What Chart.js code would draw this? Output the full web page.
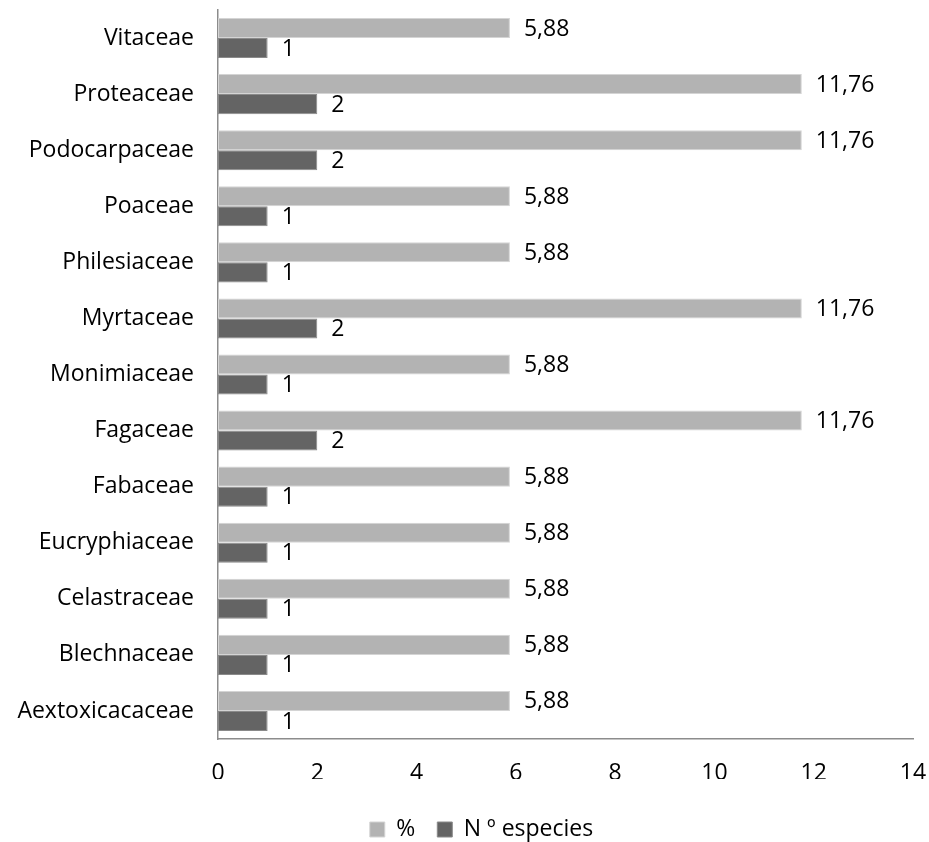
<!DOCTYPE html>
<html>
<head>
<meta charset="utf-8">
<script src="https://cdn.jsdelivr.net/npm/chart.js@4/dist/chart.umd.min.js"></script>
<style>
  html, body { margin: 0; padding: 0; background: #ffffff; }
  #wrap { width: 929px; height: 842px; }
</style>
</head>
<body>
<div id="wrap"><canvas id="c" width="929" height="842"></canvas></div>
<script>
// Families, top to bottom
const families = [
  'Vitaceae', 'Proteaceae', 'Podocarpaceae', 'Poaceae', 'Philesiaceae',
  'Myrtaceae', 'Monimiaceae', 'Fagaceae', 'Fabaceae', 'Eucryphiaceae',
  'Celastraceae', 'Blechnaceae', 'Aextoxicacaceae'
];
// Share of species per family (%)
const percent = [5.88, 11.76, 11.76, 5.88, 5.88, 11.76, 5.88, 11.76, 5.88, 5.88, 5.88, 5.88, 5.88];
// Number of species per family
const speciesCount = [1, 2, 2, 1, 1, 2, 1, 2, 1, 1, 1, 1, 1];
// Value axis ticks
const xTicks = [0, 2, 4, 6, 8, 10, 12, 14];

const FONT = '"Open Sans", sans-serif';
const FONT_SIZE = 23;

// Writes each bar's value just past its end, decimal comma style
const valueLabels = {
  id: 'valueLabels',
  afterDatasetsDraw(chart) {
    const ctx = chart.ctx;
    ctx.save();
    ctx.font = FONT_SIZE + 'px ' + FONT;
    ctx.fillStyle = '#000000';
    ctx.textAlign = 'left';
    ctx.textBaseline = 'middle';
    chart.data.datasets.forEach((ds, di) => {
      const meta = chart.getDatasetMeta(di);
      meta.data.forEach((bar, i) => {
        const v = ds.data[i];
        const txt = Number.isInteger(v) ? String(v) : v.toFixed(2).replace('.', ',');
        ctx.fillText(txt, bar.x + 14, bar.y + 1);
      });
    });
    ctx.restore();
  }
};

// Moves the legend a little right of the canvas centre and down near the bottom edge
const legendShift = {
  id: 'legendShift',
  afterLayout(chart) {
    const lg = chart.legend;
    if (!lg) return;
    const dx = 25, dy = 17;
    lg.left += dx; lg.right += dx;
    lg.top += dy; lg.bottom += dy;
    if (lg.legendHitBoxes) {
      lg.legendHitBoxes.forEach(b => { b.left += dx; b.top += dy; });
    }
  }
};

new Chart(document.getElementById('c'), {
  type: 'bar',
  data: {
    labels: families,
    datasets: [
      {
        label: '%',
        data: percent,
        backgroundColor: '#b3b3b3',
        borderColor: '#d4d4d4',
        borderWidth: 1,
        borderSkipped: false,
        categoryPercentage: 0.715,
        barPercentage: 1.0
      },
      {
        label: 'N º especies',
        data: speciesCount,
        backgroundColor: '#646464',
        borderColor: '#8a8a8a',
        borderWidth: 1,
        borderSkipped: false,
        categoryPercentage: 0.715,
        barPercentage: 1.0
      }
    ]
  },
  options: {
    indexAxis: 'y',
    responsive: false,
    animation: false,
    devicePixelRatio: 1,
    layout: { padding: { top: 10, right: 16, bottom: 8, left: 0 } },
    scales: {
      x: {
        type: 'linear',
        min: 0,
        max: 14,
        afterBuildTicks(scale) { scale.ticks = xTicks.map(v => ({ value: v })); },
        afterFit(scale) {
          scale.height = 40;
          scale.paddingLeft = 0;
          scale.paddingRight = 0;
        },
        grid: { display: false, drawTicks: false },
        border: { display: true, color: '#8c8c8c', width: 1.5 },
        ticks: {
          padding: 21,
          color: '#000000',
          font: { family: FONT, size: FONT_SIZE },
          maxRotation: 0
        }
      },
      y: {
        afterFit(scale) {
          scale.width = 218;
          scale.paddingTop = 0;
          scale.paddingBottom = 0;
        },
        grid: { display: false, drawTicks: false },
        border: { display: true, color: '#8c8c8c', width: 1.5 },
        ticks: {
          padding: 24,
          color: '#000000',
          font: { family: FONT, size: FONT_SIZE }
        }
      }
    },
    plugins: {
      legend: {
        position: 'bottom',
        labels: {
          color: '#000000',
          font: { family: FONT, size: FONT_SIZE },
          boxWidth: 15,
          boxHeight: 15,
          padding: 22,
          useBorderRadius: false
        }
      },
      tooltip: { enabled: false }
    }
  },
  plugins: [valueLabels, legendShift]
});
</script>
</body>
</html>
